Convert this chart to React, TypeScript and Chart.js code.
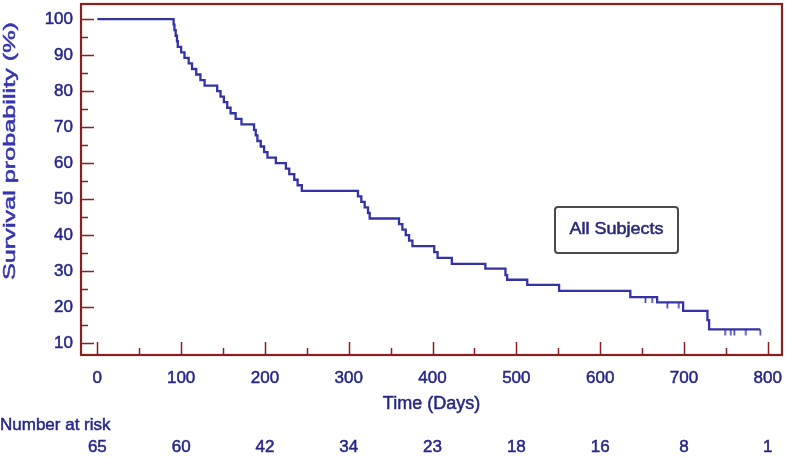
import React, { useEffect, useRef } from "react";
import { Chart, registerables } from "chart.js";

Chart.register(...registerables);

// Kaplan-Meier steps (day of event, survival % after event)
const eventDays = [0, 91, 92, 93.5, 95, 96, 100, 104, 109, 113, 118, 123, 128, 143, 147, 151, 155, 159, 165, 172, 187, 189, 191, 195, 199, 203, 213, 225, 229, 235, 239, 244, 311, 315, 319, 323, 325, 360, 364, 368, 372, 376, 402, 406, 423, 463, 487, 489, 513, 551, 636, 668, 699, 728, 730, 791];
const survival = [100, 98.46, 96.92, 95.38, 93.85, 92.31, 90.77, 89.23, 87.69, 86.15, 84.62, 83.08, 81.54, 80.0, 78.46, 76.92, 75.38, 73.85, 72.31, 70.77, 69.23, 67.69, 66.15, 64.62, 63.08, 61.54, 60.0, 58.46, 56.92, 55.38, 53.85, 52.31, 50.77, 49.23, 47.69, 46.15, 44.62, 43.08, 41.54, 40.0, 38.46, 36.92, 35.3, 33.7, 32.0, 30.7, 28.9, 27.6, 26.2, 24.5, 22.8, 21.3, 18.95, 16.4, 13.8, 13.8];

// Censored observations
const censorDays = [654, 662, 680, 694, 749, 756, 760, 774, 791];
const censorSurvival = [22.8, 22.8, 21.3, 21.3, 13.8, 13.8, 13.8, 13.8, 13.8];

// Axis ticks
const xTicks = [0, 100, 200, 300, 400, 500, 600, 700, 800];
const xMinorTicks = [50, 150, 250, 350, 450, 550, 650, 750];
const yTicks = [10, 20, 30, 40, 50, 60, 70, 80, 90, 100];
const yMinorTicks = [15, 25, 35, 45, 55, 65, 75, 85, 95];

// Number at risk
const atRiskDays = [0, 100, 200, 300, 400, 500, 600, 700, 800];
const atRisk = [65, 60, 42, 34, 23, 18, 16, 8, 1];

const seriesLabel = "All Subjects";
const xTitle = "Time (Days)";
const yTitle = "Survival probability (%)";
const atRiskTitle = "Number at risk";

const FONT = '"Liberation Sans", Arial, Helvetica, sans-serif';
const FRAME = "#8b1e1e";
const INK = "#26268a";
const CURVE = "#3333a6";
const TEXT_STROKE = 0.5;

function makeCensorMark(): HTMLCanvasElement {
  const c = document.createElement("canvas");
  c.width = 3;
  c.height = 14;
  const g = c.getContext("2d")!;
  g.strokeStyle = CURVE;
  g.lineWidth = 1.5;
  g.beginPath();
  g.moveTo(1.5, 7);
  g.lineTo(1.5, 13);
  g.stroke();
  return c;
}

function drawText(ctx: CanvasRenderingContext2D, s: string, x: number, y: number) {
  ctx.fillText(s, x, y);
  ctx.strokeText(s, x, y);
}

const decorPlugin = {
  id: "decor",
  afterDatasetsDraw(chart: any) {
    const { ctx, chartArea } = chart;
    const xs = chart.scales.x;
    const ys = chart.scales.y;
    ctx.save();
    ctx.strokeStyle = FRAME;
    ctx.lineWidth = 1.5;
    ctx.beginPath();
    xTicks.forEach((v) => {
      const px = Math.round(xs.getPixelForValue(v)) + 0.5;
      ctx.moveTo(px, chartArea.bottom);
      ctx.lineTo(px, chartArea.bottom - 13);
    });
    xMinorTicks.forEach((v) => {
      const px = Math.round(xs.getPixelForValue(v)) + 0.5;
      ctx.moveTo(px, chartArea.bottom);
      ctx.lineTo(px, chartArea.bottom - 7);
    });
    yTicks.forEach((v) => {
      const py = Math.round(ys.getPixelForValue(v)) + 0.5;
      ctx.moveTo(chartArea.left, py);
      ctx.lineTo(chartArea.left + 13, py);
    });
    yMinorTicks.forEach((v) => {
      const py = Math.round(ys.getPixelForValue(v)) + 0.5;
      ctx.moveTo(chartArea.left, py);
      ctx.lineTo(chartArea.left + 7, py);
    });
    ctx.stroke();
    ctx.lineWidth = 2.2;
    ctx.strokeRect(chartArea.left, chartArea.top, chartArea.right - chartArea.left, chartArea.bottom - chartArea.top);
    ctx.restore();
  },
  afterDraw(chart: any) {
    const { ctx, chartArea } = chart;
    const xs = chart.scales.x;
    ctx.save();
    ctx.lineWidth = TEXT_STROKE;
    ctx.fillStyle = "#3535ae";
    ctx.strokeStyle = "#3535ae";
    ctx.font = `17px ${FONT}`;
    ctx.textAlign = "center";
    ctx.textBaseline = "middle";
    ctx.save();
    ctx.translate(10, 151);
    ctx.rotate(-Math.PI / 2);
    const w = ctx.measureText(yTitle).width;
    ctx.scale(258 / w, 1);
    drawText(ctx, yTitle, 0, 0);
    ctx.restore();

    ctx.fillStyle = INK;
    ctx.strokeStyle = INK;
    ctx.font = `18px ${FONT}`;
    drawText(ctx, xTitle, (chartArea.left + chartArea.right) / 2, 404);

    ctx.font = `17px ${FONT}`;
    ctx.textAlign = "left";
    drawText(ctx, atRiskTitle, 0, 425);
    ctx.textAlign = "center";
    atRiskDays.forEach((d, i) => {
      drawText(ctx, String(atRisk[i]), xs.getPixelForValue(d), 447);
    });

    const bx = 555, by = 207, bw = 123, bh = 46, r = 3;
    ctx.beginPath();
    ctx.moveTo(bx + r, by);
    ctx.lineTo(bx + bw - r, by);
    ctx.quadraticCurveTo(bx + bw, by, bx + bw, by + r);
    ctx.lineTo(bx + bw, by + bh - r);
    ctx.quadraticCurveTo(bx + bw, by + bh, bx + bw - r, by + bh);
    ctx.lineTo(bx + r, by + bh);
    ctx.quadraticCurveTo(bx, by + bh, bx, by + bh - r);
    ctx.lineTo(bx, by + r);
    ctx.quadraticCurveTo(bx, by, bx + r, by);
    ctx.closePath();
    ctx.fillStyle = "#ffffff";
    ctx.fill();
    ctx.strokeStyle = "#4a4a4a";
    ctx.lineWidth = 2;
    ctx.stroke();
    ctx.fillStyle = "#2a2a78";
    ctx.strokeStyle = "#2a2a78";
    ctx.lineWidth = TEXT_STROKE;
    ctx.font = `16px ${FONT}`;
    ctx.textAlign = "center";
    ctx.textBaseline = "middle";
    const tw = ctx.measureText(seriesLabel).width;
    ctx.save();
    ctx.translate(bx + bw / 2, by + bh / 2);
    ctx.scale(94 / tw, 1);
    drawText(ctx, seriesLabel, 0, 0);
    ctx.restore();
    ctx.restore();
  },
};

export default function App() {
  const ref = useRef<HTMLCanvasElement | null>(null);
  useEffect(() => {
    if (!ref.current) return;
    const mark = makeCensorMark();
    const chart = new Chart(ref.current, {
      type: "line",
      data: {
        datasets: [
          {
            label: seriesLabel,
            data: eventDays.map((d, i) => ({ x: d, y: survival[i] })),
            stepped: true,
            borderColor: CURVE,
            borderWidth: 2.3,
            pointRadius: 0,
            fill: false,
          },
          {
            label: "censored",
            data: censorDays.map((d, i) => ({ x: d, y: censorSurvival[i] })),
            showLine: false,
            pointStyle: mark as any,
            pointRadius: 7,
            borderColor: CURVE,
            backgroundColor: CURVE,
          },
        ],
      },
      options: {
        responsive: false,
        animation: false,
        layout: { autoPadding: false, padding: { left: 0, top: 4, right: 5, bottom: 0 } },
        plugins: {
          legend: { display: false },
          tooltip: { enabled: false },
        },
        scales: {
          x: {
            type: "linear",
            min: -19.5,
            max: 817,
            grid: { display: false, drawTicks: false },
            border: { display: false },
            afterBuildTicks: (s: any) => {
              s.ticks = xTicks.map((v) => ({ value: v }));
            },
            afterFit: (s: any) => {
              s.height = 103;
              s.paddingLeft = 0;
              s.paddingRight = 0;
            },
            ticks: {
              padding: 13,
              color: INK,
              textStrokeColor: INK,
              textStrokeWidth: TEXT_STROKE,
              font: { family: FONT, size: 17 },
              maxRotation: 0,
              autoSkip: false,
            },
          },
          y: {
            type: "linear",
            min: 6.7,
            max: 104.2,
            grid: { display: false, drawTicks: false },
            border: { display: false },
            afterBuildTicks: (s: any) => {
              s.ticks = yTicks.map((v) => ({ value: v }));
            },
            afterFit: (s: any) => {
              s.width = 81;
              s.paddingTop = 0;
              s.paddingBottom = 0;
            },
            ticks: {
              padding: 8,
              color: INK,
              textStrokeColor: INK,
              textStrokeWidth: TEXT_STROKE,
              font: { family: FONT, size: 17 },
              autoSkip: false,
            },
          },
        },
      },
      plugins: [decorPlugin],
    } as any);
    return () => chart.destroy();
  }, []);
  return (
    <div style={{ position: "absolute", left: 0, top: 0, width: 787, height: 458, background: "#fff" }}>
      <canvas ref={ref} width={787} height={458} style={{ display: "block" }} />
    </div>
  );
}
